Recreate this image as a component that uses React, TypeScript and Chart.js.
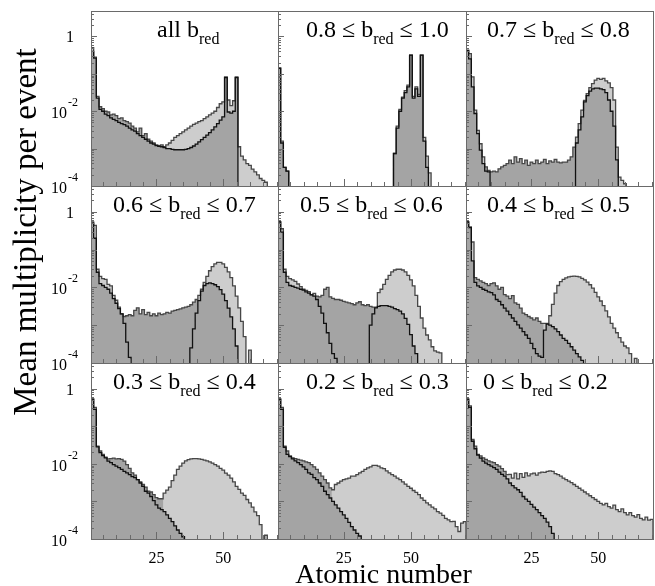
import React, { useEffect, useRef } from "react";
import { Chart, registerables } from "chart.js";

Chart.register(...registerables);

const _ = null;

// ---------- DATA: log10(mean multiplicity per event) for Z = 1, 2, 3 ... (null = empty bin) ----------

const ALL_TOTAL = [
  -0.3, -0.55, -1.6, -1.88, -1.93, -2.0, -2.02, -2.1, -2.08, -2.12,
  -2.2, -2.18, -2.25, -2.28, -2.32, -2.4, -2.45, -2.55, -2.45, -2.65,
  -2.6, -2.75, -2.8, -2.85, -2.9, -2.92, -2.9, -2.95, -2.9, -2.85,
  -2.78, -2.7, -2.65, -2.6, -2.55, -2.5, -2.45, -2.4, -2.35, -2.32,
  -2.28, -2.25, -2.2, -2.15, -2.1, -2.05, -2.0, -1.9, -1.8, -1.75,
  -1.08, -1.7, -1.85, -1.72, -1.08, -2.95, -3.2, -3.3, -3.4, -3.45,
  -3.55, -3.62, -3.7, -3.8, -3.85, -3.9,
];
const ALL_BLACK = [
  -0.4, -0.58, -1.65, -1.95, -2.0, -2.08, -2.12, -2.18, -2.22, -2.25,
  -2.3, -2.33, -2.36, -2.4, -2.45, -2.5, -2.53, -2.6, -2.65, -2.7,
  -2.75, -2.8, -2.85, -2.88, -2.92, -2.94, -2.95, -2.97, -3.0, -3.0,
  -3.02, -3.03, -3.03, -3.03, -3.03, -3.02, -3.0, -2.97, -2.93, -2.88,
  -2.82, -2.76, -2.7, -2.64, -2.57, -2.5, -2.42, -2.33, -2.24, -2.15,
  -1.1, -2.02, -2.05, -2.0, -1.1,
];

const B80_TOTAL = [
  -0.85, -2.8, -3.5, -3.6, _, _, _, _, _, _,
  _, _, _, _, _, _, _, _, _, _,
  _, _, _, _, _, _, _, _, _, _,
  _, _, _, _, _, _, _, _, _, _,
  _, _, _, -3.13, -2.4, -1.95, -1.62, -1.45, -1.3, -0.5,
  -1.6, -1.35, -1.55, -0.5, -2.7, -3.2, -3.65,
];
const B80_BLACK = [
  -0.85, -2.85, -3.5, -3.6, _, _, _, _, _, _,
  _, _, _, _, _, _, _, _, _, _,
  _, _, _, _, _, _, _, _, _, _,
  _, _, _, _, _, _, _, _, _, _,
  _, _, _, -3.13, -2.45, -2.0, -1.65, -1.5, -1.35, -0.5,
  -1.65, -1.4, -1.6, -0.5, -2.8, -3.5,
];

const B70_TOTAL = [
  -0.37, -0.46, -1.08, -1.97, -2.51, -2.87, -3.22, -3.49, -3.58, -3.62,
  -3.6, -3.62, -3.54, -3.49, -3.45, -3.4, -3.31, -3.4, -3.22, -3.36,
  -3.27, -3.4, -3.31, -3.45, -3.36, -3.4, -3.31, -3.4, -3.36, -3.29,
  -3.4, -3.33, -3.36, -3.29, -3.36, -3.38, -3.36, -3.36, -3.31, -3.22,
  -2.96, -2.69, -2.33, -1.97, -1.71, -1.53, -1.37, -1.26, -1.17, -1.12,
  -1.15, -1.12, -1.19, -1.24, -1.37, -1.7, -2.96, -3.76, -3.85, -3.94,
];
const B70_BLACK = [
  -0.37, -0.6, -1.35, -2.06, -2.6, -3.04, -3.4, -3.6, -3.62, _,
  _, _, _, _, _, _, _, _, _, _,
  _, _, _, _, _, _, _, _, _, _,
  _, _, _, _, _, _, _, _, _, _,
  _, -2.85, -2.5, -2.15, -1.75, -1.58, -1.46, -1.4, -1.38, -1.38,
  -1.4, -1.42, -1.5, -1.7, -2.0, -2.4, -3.3,
];

const B60_TOTAL = [
  -0.27, -0.36, -1.52, -1.71, -1.77, -1.79, -1.92, -1.96, -2.21, -2.34,
  -2.52, -2.7, -2.77, -2.75, -2.72, -2.75, -2.61, -2.54, -2.7, -2.59,
  -2.72, -2.66, -2.75, -2.7, -2.75, -2.68, -2.72, -2.7, -2.66, -2.68,
  -2.63, -2.61, -2.59, -2.57, -2.54, -2.52, -2.5, -2.46, -2.39, -2.32,
  -2.21, -2.05, -1.87, -1.71, -1.56, -1.45, -1.38, -1.34, -1.34, -1.38,
  -1.47, -1.59, -1.74, -1.96, -2.23, -2.54, -2.9, -3.3, _, -3.66,
];
const B60_BLACK = [
  -0.3, -0.7, -1.6, -1.9, -1.95, -2.0, -2.05, -2.15, -2.3, -2.42,
  -2.56, -2.7, -2.95, -3.45, -3.85, _, _, _, _, _,
  _, _, _, _, _, _, _, _, _, _,
  _, _, _, _, _, _, _, -3.6, -3.1, -2.68,
  -2.35, -2.1, -1.95, -1.9, -1.88, -1.9, -1.93, -1.98, -2.06, -2.18,
  -2.35, -2.55, -2.78, -3.1, -3.55,
];

const B50_TOTAL = [
  -0.27, -0.45, -1.52, -1.71, -1.77, -1.8, -1.84, -1.91, -1.98, -2.05,
  -2.08, -2.11, -2.19, -2.16, -2.23, -2.25, -2.21, -2.05, -2.0, -2.25,
  -2.29, -2.32, -2.32, -2.34, -2.37, -2.39, -2.41, -2.43, -2.46, -2.41,
  -2.38, -2.46, -2.48, -2.46, -2.5, -2.52, -2.52, -2.14, -2.05, -1.92,
  -1.79, -1.68, -1.59, -1.54, -1.52, -1.52, -1.54, -1.59, -1.68, -1.8,
  -1.96, -2.21, -2.5, -2.81, -3.08, -3.26, -3.39, -3.57, -3.68, -3.71,
  -3.73,
];
const B50_BLACK = [
  -0.27, -0.54, -1.6, -1.87, -1.95, -1.97, -2.0, -2.02, -2.05, -2.07,
  -2.12, -2.15, -2.2, -2.23, -2.32, -2.5, -2.68, -2.95, -3.2, -3.48,
  -3.75, -3.88, _, _, _, _, _, _, _, _,
  _, _, _, _, -3.0, -2.7, -2.54, -2.5, -2.48, -2.48,
  -2.48, -2.5, -2.52, -2.56, -2.59, -2.63, -2.7, -2.82, -2.98, -3.25,
  -3.55, -3.75,
];

const B40_TOTAL = [
  -0.27, -0.4, -0.8, -1.74, -1.79, -1.83, -1.87, -1.9, -1.95, -1.9,
  -1.88, -1.96, -2.05, -2.0, -2.19, -2.23, -2.3, -2.22, -2.41, -2.45,
  -2.55, -2.68, -2.72, -2.77, -2.81, -2.86, -2.81, -2.9, -2.95, -2.95,
  -2.95, -2.75, -2.45, -2.15, -1.95, -1.85, -1.79, -1.75, -1.72, -1.71,
  -1.7, -1.71, -1.72, -1.76, -1.8, -1.86, -1.93, -2.02, -2.13, -2.25,
  -2.36, -2.48, -2.62, -2.78, -2.95, -3.08, -3.2, -3.33, -3.45, -3.55,
  -3.6, -3.75, _, -3.88,
];
const B40_BLACK = [
  -0.27, -0.42, -1.3, -1.87, -1.96, -2.0, -2.05, -2.08, -2.12, -2.14,
  -2.2, -2.32, -2.37, -2.46, -2.55, -2.63, -2.72, -2.81, -2.9, -2.99,
  -3.08, -3.17, -3.26, -3.35, -3.48, -3.62, -3.75, -3.82, -3.85, -3.13,
  -2.97, -3.0, -3.04, -3.1, -3.17, -3.26, -3.35, -3.4, -3.48, -3.57,
  -3.66, -3.75, -3.84, -3.93,
];

const B30_TOTAL = [
  -0.28, -0.5, -1.53, -1.66, -1.75, -1.82, -1.87, -1.86, -1.85, -1.87,
  -1.86, -1.88, -1.93, -2.02, -2.12, -2.24, -2.3, -2.42, -2.48, -2.55,
  -2.62, -2.73, -2.75, -2.82, -2.9, -2.93, -2.93, -2.78, -2.7, -2.62,
  -2.45, -2.3, -2.15, -2.06, -1.98, -1.92, -1.89, -1.87, -1.86, -1.86,
  -1.87, -1.88, -1.9, -1.92, -1.95, -1.98, -2.02, -2.06, -2.12, -2.17,
  -2.25, -2.3, -2.38, -2.48, -2.6, -2.68, -2.78, -2.84, -2.95, -3.04,
  -3.15, -3.28, -3.38, -3.62, _, -3.9,
];
const B30_BLACK = [
  -0.28, -0.55, -1.55, -1.7, -1.78, -1.84, -1.93, -1.97, -2.02, -2.06,
  -2.1, -2.15, -2.2, -2.24, -2.29, -2.34, -2.37, -2.42, -2.51, -2.6,
  -2.73, -2.78, -2.87, -2.98, -3.09, -3.18, -3.22, -3.27, -3.36, -3.45,
  -3.54, -3.65, -3.76, -3.85, -3.94,
];

const B20_TOTAL = [
  -0.28, -0.5, -1.53, -1.66, -1.79, -1.84, -1.86, -1.88, -1.9, -1.92,
  -1.95, -1.97, -2.02, -2.08, -2.15, -2.24, -2.33, -2.42, -2.51, -2.64,
  -2.69, -2.55, -2.51, -2.46, -2.42, -2.4, -2.38, -2.33, -2.33, -2.29,
  -2.24, -2.2, -2.15, -2.11, -2.08, -2.04, -2.04, -2.06, -2.11, -2.13,
  -2.19, -2.24, -2.29, -2.33, -2.38, -2.42, -2.48, -2.54, -2.6, -2.65,
  -2.71, -2.76, -2.82, -2.91, -2.97, -3.04, -3.09, -3.15, -3.2, -3.27,
  -3.31, -3.37, -3.45, -3.49, -3.54, -3.53, -3.67, -3.8, -3.58, -3.54,
];
const B20_BLACK = [
  -0.28, -0.55, -1.56, -1.75, -1.81, -1.87, -1.92, -1.97, -2.02, -2.08,
  -2.15, -2.24, -2.28, -2.37, -2.42, -2.51, -2.6, -2.73, -2.82, -2.91,
  -3.0, -3.09, -3.18, -3.27, -3.36, -3.45, -3.56, -3.67, -3.76, -3.85,
  -3.92,
];

const B00_TOTAL = [
  -0.28, -0.46, -1.35, -1.53, -1.75, -1.79, -1.84, -1.88, -1.92, -1.95,
  -1.97, -2.02, -2.06, -2.13, -2.2, -2.29, -2.28, -2.38, -2.25, -2.4,
  -2.26, -2.36, -2.24, -2.32, -2.27, -2.25, -2.3, -2.24, -2.22, -2.23,
  -2.2, -2.19, -2.2, -2.26, -2.29, -2.33, -2.38, -2.42, -2.46, -2.5,
  -2.55, -2.6, -2.65, -2.7, -2.75, -2.8, -2.85, -2.9, -2.95, -3.0,
  -3.05, -3.09, -3.05, -3.14, -3.18, -3.1, -3.22, -3.27, -3.2, -3.3,
  -3.36, -3.3, -3.38, -3.42, -3.35, -3.45, -3.49, -3.42, -3.5, -3.48,
];
const B00_BLACK = [
  -0.28, -0.5, -1.4, -1.6, -1.77, -1.85, -1.93, -1.98, -2.02, -2.06,
  -2.1, -2.15, -2.22, -2.28, -2.33, -2.4, -2.51, -2.58, -2.64, -2.69,
  -2.76, -2.87, -2.94, -3.0, -3.08, -3.15, -3.22, -3.3, -3.38, -3.45,
  -3.55, -3.67, -3.85,
];

// Z range where the dark-grey fill reaches up to the total histogram (null = never)
const DARK_RANGES: ([number, number] | null)[] = [
  [4, 28], null, [8, 41], [12, 40], [15, 37], [4, 29], [3, 27], [3, 20], [3, 15],
];

// panel titles: [before subscript, subscript, after subscript]
const PANEL_TITLES = [
  ["all b", "red", ""],
  ["0.8 \u2264 b", "red", " \u2264 1.0"],
  ["0.7 \u2264 b", "red", " \u2264 0.8"],
  ["0.6 \u2264 b", "red", " \u2264 0.7"],
  ["0.5 \u2264 b", "red", " \u2264 0.6"],
  ["0.4 \u2264 b", "red", " \u2264 0.5"],
  ["0.3 \u2264 b", "red", " \u2264 0.4"],
  ["0.2 \u2264 b", "red", " \u2264 0.3"],
  ["0 \u2264 b", "red", " \u2264 0.2"],
];

const TOTALS = [ALL_TOTAL, B80_TOTAL, B70_TOTAL, B60_TOTAL, B50_TOTAL, B40_TOTAL, B30_TOTAL, B20_TOTAL, B00_TOTAL];
const BLACKS = [ALL_BLACK, B80_BLACK, B70_BLACK, B60_BLACK, B50_BLACK, B40_BLACK, B30_BLACK, B20_BLACK, B00_BLACK];

const Z_BINS = 70;
const X_MIN = 0.5;
const X_MAX = 70.5;
const Y_MIN = 1e-4;
const Y_MAX = 4.8;
const X_TICK_LABELS = [25, 50];
const Y_TICK_EXPONENTS = [0, -2, -4];
const X_TITLE = "Atomic number";
const Y_TITLE = "Mean multiplicity per event";

// ---------- LAYOUT / STYLE ----------
const CANVAS_W = 655;
const CANVAS_H = 586;
const COL_X = [91, 278, 466, 653];
const ROW_Y = [11, 186, 363, 539];
const TITLE_DX = [66, 28, 21, 22, 22, 21, 22, 28, 17];
const FONT = '"Liberation Serif", "Times New Roman", Times, serif';
const LIGHT_FILL = "#cdcdcd";
const DARK_FILL = "#a4a4a4";
const TOTAL_LINE = "#474747";
const BLACK_LINE = "#111111";
const FRAME_COLOR = "#6a6a6a";
const EMPTY = 1e-9;

function binValue(arr: (number | null)[], z: number): number | null {
  const v = arr[z - 1];
  return v === undefined ? null : v;
}

function histPoints(getLog: (z: number) => number | null) {
  const val = (v: number | null) => (v == null ? EMPTY : Math.pow(10, v));
  const pts: { x: number; y: number }[] = [{ x: X_MIN, y: val(getLog(1)) }];
  for (let z = 1; z <= Z_BINS; z++) pts.push({ x: z, y: val(getLog(z)) });
  pts.push({ x: X_MAX, y: val(getLog(Z_BINS)) });
  pts.push({ x: X_MAX, y: EMPTY });
  return pts;
}

const decorPlugin = {
  id: "panelDecor",
  afterDraw(chart: any, _args: any, opts: any) {
    const { ctx, chartArea: a } = chart;
    const xs = chart.scales.x;
    const ys = chart.scales.y;
    ctx.save();
    // ticks
    ctx.strokeStyle = FRAME_COLOR;
    ctx.lineWidth = 1;
    ctx.beginPath();
    for (let z = 5; z < X_MAX; z += 5) {
      const px = Math.round(xs.getPixelForValue(z)) + 0.5;
      const len = z % 25 === 0 ? 7 : 4;
      ctx.moveTo(px, a.bottom);
      ctx.lineTo(px, a.bottom - len);
    }
    for (let e = -4; e <= 0; e++) {
      for (let m = 1; m <= 9; m++) {
        const v = m * Math.pow(10, e);
        if (v <= Y_MIN || v >= Y_MAX) continue;
        const py = Math.round(ys.getPixelForValue(v)) + 0.5;
        const len = m === 1 ? 6 : 3;
        ctx.moveTo(a.left, py);
        ctx.lineTo(a.left + len, py);
      }
    }
    ctx.stroke();
    // frame
    ctx.strokeRect(a.left + 0.5, a.top + 0.5, a.right - a.left, a.bottom - a.top);

    ctx.fillStyle = "#000";
    ctx.textBaseline = "alphabetic";
    // title
    const [pre, sub, post] = opts.title;
    let tx = a.left + opts.titleDx;
    const ty = a.top + 26;
    ctx.textAlign = "left";
    ctx.font = `24px ${FONT}`;
    ctx.fillText(pre, tx, ty);
    tx += ctx.measureText(pre).width;
    ctx.font = `16px ${FONT}`;
    ctx.fillText(sub, tx, ty + 7);
    tx += ctx.measureText(sub).width;
    ctx.font = `24px ${FONT}`;
    ctx.fillText(post, tx, ty);

    // y tick labels
    if (opts.yLabels) {
      for (const e of Y_TICK_EXPONENTS) {
        const py = ys.getPixelForValue(Math.pow(10, e));
        if (e === 0) {
          ctx.font = `16px ${FONT}`;
          ctx.textAlign = "right";
          ctx.fillText("1", a.left - 17, py + 6);
        } else {
          ctx.font = `16px ${FONT}`;
          ctx.textAlign = "right";
          ctx.fillText("10", a.left - 24, py + 7);
          ctx.font = `12px ${FONT}`;
          ctx.textAlign = "left";
          ctx.fillText(String(e), a.left - 23, py - 5);
        }
      }
    }
    // x tick labels
    if (opts.xLabels) {
      ctx.font = `16px ${FONT}`;
      ctx.textAlign = "center";
      for (const z of X_TICK_LABELS) {
        ctx.fillText(String(z), xs.getPixelForValue(z), a.bottom + 24);
      }
    }
    // axis titles
    if (opts.axisTitles) {
      ctx.font = `28px ${FONT}`;
      ctx.textAlign = "center";
      ctx.fillText(X_TITLE, 383.5, 583);
      ctx.save();
      ctx.translate(36, 232);
      ctx.rotate(-Math.PI / 2);
      ctx.font = `33px ${FONT}`;
      ctx.fillText(Y_TITLE, 0, 0);
      ctx.restore();
    }
    ctx.restore();
  },
};

function buildConfig(i: number): any {
  const col = i % 3;
  const row = Math.floor(i / 3);
  const total = TOTALS[i];
  const black = BLACKS[i];
  const range = DARK_RANGES[i];
  const darkLog = (z: number) => {
    const b = binValue(black, z);
    const t = binValue(total, z);
    if (range && z >= range[0] && z <= range[1] && t != null) {
      return b == null ? t : Math.max(t, b);
    }
    return b;
  };
  return {
    type: "line",
    data: {
      datasets: [
        {
          data: histPoints((z) => binValue(black, z)),
          borderColor: BLACK_LINE,
          borderWidth: 1.3,
          fill: false,
          stepped: "middle",
          pointRadius: 0,
        },
        {
          data: histPoints(darkLog),
          borderColor: "transparent",
          borderWidth: 0,
          backgroundColor: DARK_FILL,
          fill: "start",
          stepped: "middle",
          pointRadius: 0,
        },
        {
          data: histPoints((z) => binValue(total, z)),
          borderColor: TOTAL_LINE,
          borderWidth: 1.3,
          backgroundColor: LIGHT_FILL,
          fill: "start",
          stepped: "middle",
          pointRadius: 0,
        },
      ],
    },
    options: {
      responsive: false,
      maintainAspectRatio: false,
      animation: false,
      devicePixelRatio: 1,
      events: [],
      layout: {
        padding: {
          left: COL_X[col],
          right: CANVAS_W - COL_X[col + 1],
          top: ROW_Y[row],
          bottom: CANVAS_H - ROW_Y[row + 1],
        },
      },
      scales: {
        x: { type: "linear", min: X_MIN, max: X_MAX, display: false },
        y: { type: "logarithmic", min: Y_MIN, max: Y_MAX, display: false },
      },
      plugins: {
        legend: { display: false },
        tooltip: { enabled: false },
        filler: { drawTime: "beforeDatasetsDraw" },
        panelDecor: {
          title: PANEL_TITLES[i],
          titleDx: TITLE_DX[i],
          yLabels: col === 0,
          xLabels: row === 2,
          axisTitles: i === 0,
        },
      },
    },
    plugins: [decorPlugin],
  };
}

export default function App() {
  const refs = useRef<(HTMLCanvasElement | null)[]>([]);
  useEffect(() => {
    const charts = PANEL_TITLES.map((_t, i) => new Chart(refs.current[i] as HTMLCanvasElement, buildConfig(i)));
    return () => charts.forEach((c) => c.destroy());
  }, []);
  return (
    <div style={{ position: "absolute", left: 0, top: 0, width: CANVAS_W, height: CANVAS_H, background: "#fff" }}>
      {PANEL_TITLES.map((_t, i) => (
        <canvas
          key={i}
          ref={(el) => {
            refs.current[i] = el;
          }}
          width={CANVAS_W}
          height={CANVAS_H}
          style={{ position: "absolute", left: 0, top: 0 }}
        />
      ))}
    </div>
  );
}
